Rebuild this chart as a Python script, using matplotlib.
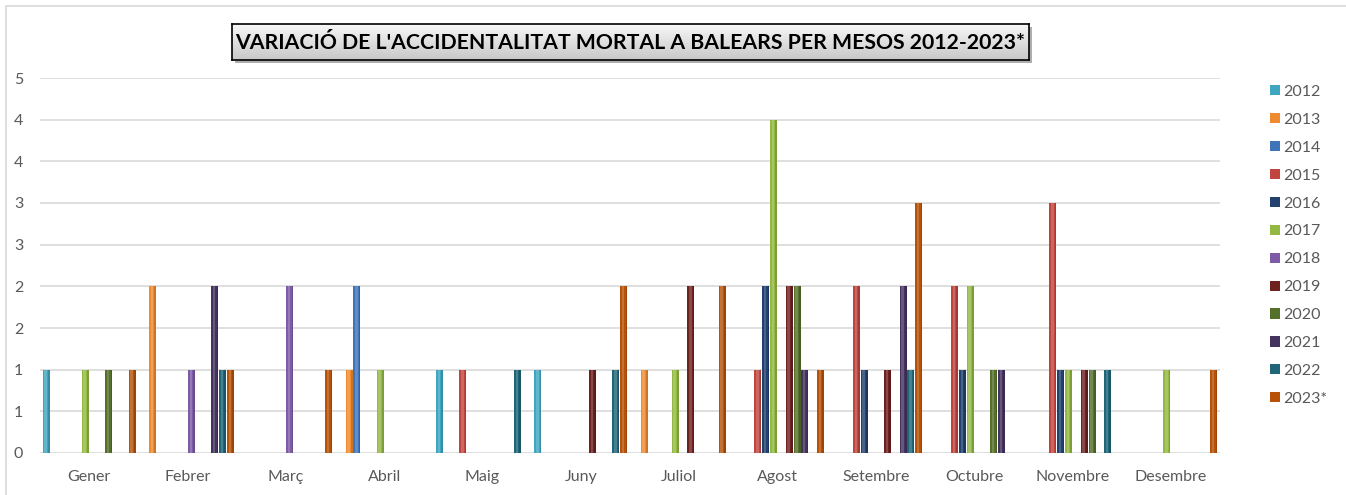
import numpy as np
import matplotlib
matplotlib.use("Agg")
import matplotlib.pyplot as plt
from matplotlib.patches import Rectangle, Patch
from matplotlib.colors import LinearSegmentedColormap

# ---------------- data ----------------
months = ['Gener', 'Febrer', 'Març', 'Abril', 'Maig', 'Juny', 'Juliol',
          'Agost', 'Setembre', 'Octubre', 'Novembre', 'Desembre']
years = ['2012', '2013', '2014', '2015', '2016', '2017', '2018', '2019',
         '2020', '2021', '2022', '2023*']

y2012 = [1, 0, 0, 0, 1, 1, 0, 0, 0, 0, 0, 0]
y2013 = [0, 2, 0, 1, 0, 0, 1, 0, 0, 0, 0, 0]
y2014 = [0, 0, 0, 2, 0, 0, 0, 0, 0, 0, 0, 0]
y2015 = [0, 0, 0, 0, 1, 0, 0, 1, 2, 2, 3, 0]
y2016 = [0, 0, 0, 0, 0, 0, 0, 2, 1, 1, 1, 0]
y2017 = [1, 0, 0, 1, 0, 0, 1, 4, 0, 2, 1, 1]
y2018 = [0, 1, 2, 0, 0, 0, 0, 0, 0, 0, 0, 0]
y2019 = [0, 0, 0, 0, 0, 1, 2, 2, 1, 0, 1, 0]
y2020 = [1, 0, 0, 0, 0, 0, 0, 2, 0, 1, 1, 0]
y2021 = [0, 2, 0, 0, 0, 0, 0, 1, 2, 1, 0, 0]
y2022 = [0, 1, 0, 0, 1, 1, 0, 0, 1, 0, 1, 0]
y2023 = [1, 1, 1, 0, 0, 2, 2, 1, 3, 0, 0, 1]

series = [y2012, y2013, y2014, y2015, y2016, y2017, y2018, y2019,
          y2020, y2021, y2022, y2023]

y_ticks = [0, 0.5, 1, 1.5, 2, 2.5, 3, 3.5, 4, 4.5]
y_tick_labels = ['0', '1', '1', '2', '2', '3', '3', '4', '4', '5']

title = "VARIACIÓ DE L'ACCIDENTALITAT MORTAL A BALEARS PER MESOS 2012-2023*"

colors = ['#3FA6C2', '#F08A2E', '#3F74B8', '#C0453F', '#22416E', '#93B943',
          '#7E5BA6', '#6E2220', '#55702A', '#45335F', '#1F6678', '#B85208']

# ---------------- figure ----------------
W, H = 1346, 495
fig = plt.figure(figsize=(W / 100, H / 100), dpi=100)
plt.rcParams['font.family'] = ['Lato', 'DejaVu Sans']

def fx(px):
    return px / W

def fy(py):
    return 1 - py / H

# chart border
fig.patches.append(Rectangle((fx(6), fy(500)), fx(1400), fy(6) - fy(500),
                             transform=fig.transFigure, fill=False,
                             edgecolor='#D9D9D9', lw=1.2, zorder=-5))

left, right, top, bottom = 40, 1220, 78, 453
ax = fig.add_axes([fx(left), fy(bottom), fx(right - left), fy(top) - fy(bottom)])

n = len(series)
slot = 0.0794
bw = slot * 0.9
x = np.arange(len(months))
for k, (vals, c) in enumerate(zip(series, colors)):
    off = (k - (n - 1) / 2) * slot
    ax.bar(x + off, vals, width=bw, color=c, edgecolor='none', zorder=3,
           label=years[k])
    # cylindrical highlight
    ax.bar(x + off - bw * 0.08, vals, width=bw * 0.35, color='white',
           alpha=0.18, edgecolor='none', zorder=4)
    ax.bar(x + off + bw * 0.38, vals, width=bw * 0.24, color='black',
           alpha=0.15, edgecolor='none', zorder=4)

ax.set_xlim(-0.5, len(months) - 0.5)
ax.set_ylim(0, 4.5)
ax.set_yticks(y_ticks)
ax.set_yticklabels(y_tick_labels)
ax.set_xticks(x)
ax.set_xticklabels(months)
ax.tick_params(axis='both', length=0, labelsize=11.5, labelcolor='#595959')
ax.tick_params(axis='y', pad=12)
ax.tick_params(axis='x', pad=12)
ax.grid(axis='y', color='#D9D9D9', lw=1.2, zorder=0)
for s in ax.spines.values():
    s.set_visible(False)
ax.set_facecolor('none')

# legend
handles = [Patch(facecolor=c, edgecolor='none') for c in colors]
fig.legend(handles, years, loc='upper left',
           bbox_to_anchor=(fx(1270), fy(85)), frameon=False,
           fontsize=11.5, labelcolor='#595959', handlelength=0.6,
           handleheight=0.6, handletextpad=0.25, labelspacing=0.87,
           borderpad=0, borderaxespad=0)

# title box with gradient and shadow
bx0, bx1, by0, by1 = 232, 1029, 24, 60
tax = fig.add_axes([fx(bx0), fy(by1), fx(bx1 - bx0), fy(by0) - fy(by1)])
tax.set_zorder(5)
sh = Rectangle((fx(bx0 + 3), fy(by1 + 3)), fx(bx1 - bx0), fy(by0) - fy(by1),
               transform=fig.transFigure, facecolor='#8C8C8C',
               edgecolor='none', alpha=0.7)
sh.set_zorder(4)
fig.patches.append(sh)
grad = np.linspace(0, 1, 64).reshape(-1, 1)
cmap = LinearSegmentedColormap.from_list('g', ['#F7F7F7', '#C8C8C8'])
tax.imshow(grad, aspect='auto', cmap=cmap, extent=[0, 1, 0, 1], origin='upper')
tax.set_xlim(0, 1)
tax.set_ylim(0, 1)
tax.set_xticks([])
tax.set_yticks([])
for s in tax.spines.values():
    s.set_edgecolor('black')
    s.set_linewidth(1.2)
tax.text(0.5, 0.47, title, ha='center', va='center', fontsize=15.3,
         fontweight='bold', color='black', transform=tax.transAxes)

fig.savefig('out.png', dpi=100)
